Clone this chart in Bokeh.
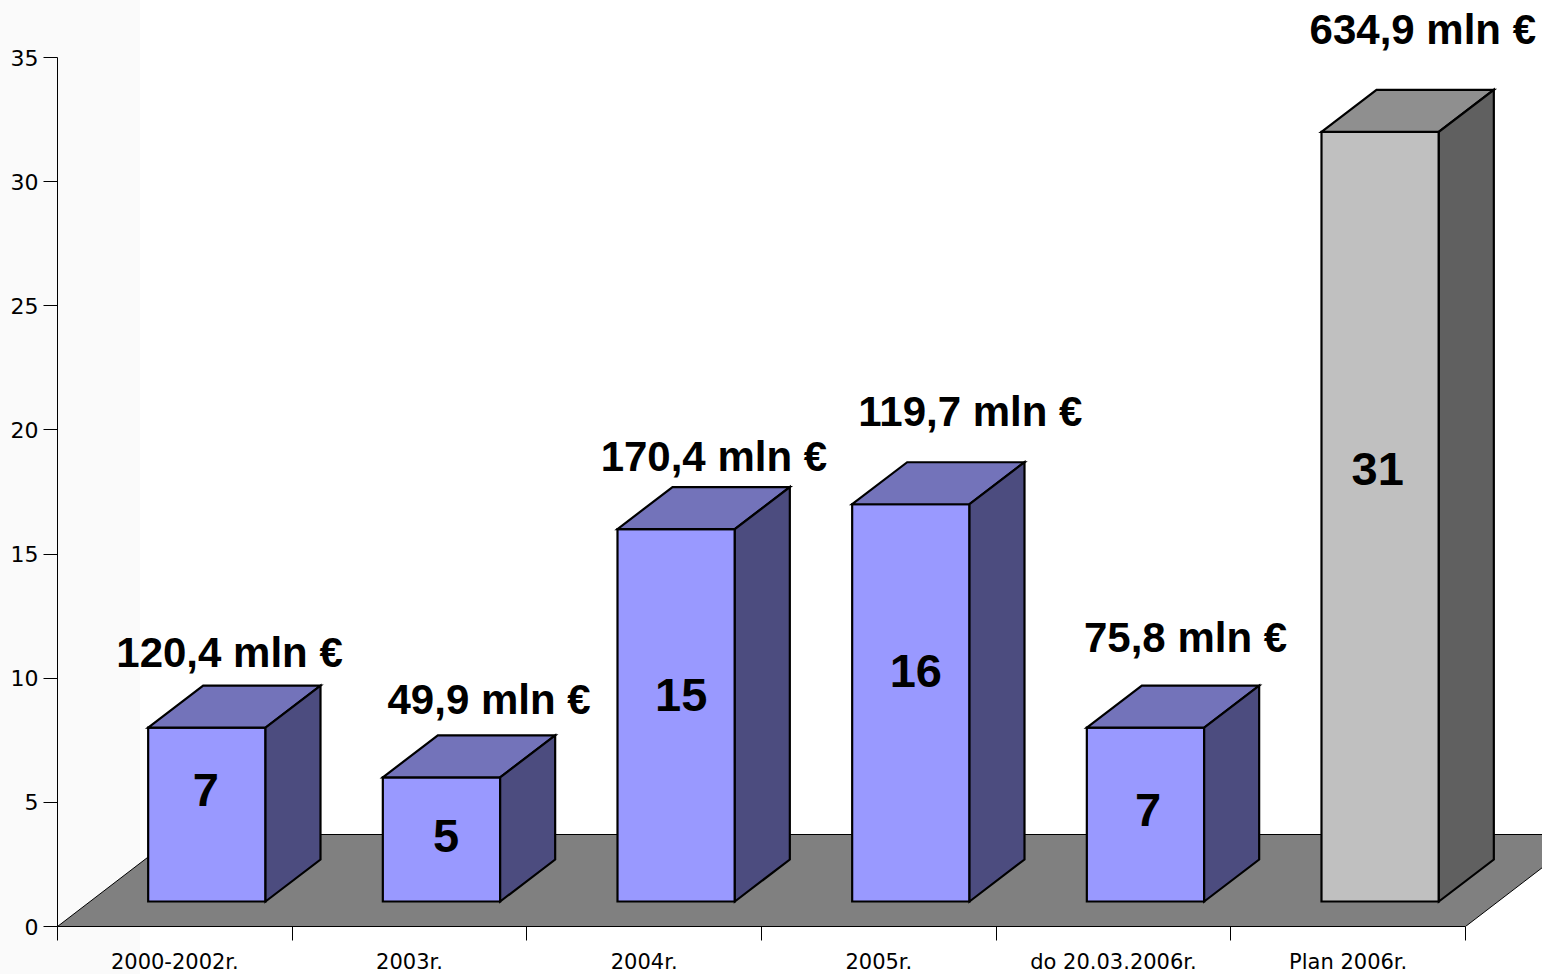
from bokeh.plotting import figure
from bokeh.models import Range1d, FixedTicker, ColumnDataSource
from bokeh.core.properties import value
from bokeh.embed import file_html
from bokeh.resources import INLINE

# ---------------- data ----------------
categories = ["2000-2002r.", "2003r.", "2004r.", "2005r.", "do 20.03.2006r.", "Plan 2006r."]
counts = [7, 5, 15, 16, 7, 31]
amount_labels = ["120,4 mln €", "49,9 mln €", "170,4 mln €", "119,7 mln €", "75,8 mln €", "634,9 mln €"]
y_ticks = [0, 5, 10, 15, 20, 25, 30, 35]

# ---------------- styling / layout ----------------
front_colors = ["#9999FF"] * 5 + ["#C0C0C0"]
top_colors = ["#7373BA"] * 5 + ["#8F8F8F"]
side_colors = ["#4C4C7F"] * 5 + ["#606060"]

FRAME_W, FRAME_H = 1485, 926
PX_X = 6 / 1408.0          # data units per pixel (x)
PX_Y = 35 / 869.0          # data units per pixel (y)

FLOOR_DX, FLOOR_DY = 120 * PX_X, 92 * PX_Y
BAR_OX, BAR_OY = 32 * PX_X, 25 * PX_Y      # front face pushed into the floor
BAR_DX, BAR_DY = 55 * PX_X, 42 * PX_Y      # bar depth
HALF_W = 0.25

AMOUNT_FS, COUNT_FS = 42, 47
TEXT_SHIFT = 0.38          # baseline correction (em) for svg text

# manual label placement (offsets)
amount_dx = [0.233, 0.339, 0.297, 0.390, 0.307, 0.318]
amount_dy = [3.39, 3.50, 3.28, 4.10, 3.99, 4.48]
count_dx_px = [-1, 4.5, 5, 5, 2.5, -2.5]
count_dy = [0.28, -0.57, 0.11, 0.58, -0.52, 1.21]

p = figure(frame_width=FRAME_W, frame_height=FRAME_H,
           x_range=Range1d(-0.5, -0.5 + FRAME_W * PX_X),
           y_range=Range1d(0, FRAME_H * PX_Y),
           output_backend="svg", toolbar_location=None,
           min_border_left=57, min_border_right=0, min_border_top=0, min_border_bottom=48)
p.outline_line_color = None
p.grid.visible = False
p.background_fill_color = None
p.border_fill_color = None
p.styles = {"background": "linear-gradient(to right, #FAFAFA 0px, #FAFAFA 140px, #FFFFFF 140px, #FFFFFF 100%)"}

# floor
n = len(categories)
fx = [-0.5, n - 0.5, n - 0.5 + FLOOR_DX, -0.5 + FLOOR_DX]
fy = [0, 0, FLOOR_DY, FLOOR_DY]
p.patch(fx, fy, fill_color="#808080", line_color="black", line_width=1)

# bars
xs, ys, cols = [], [], []
for i, v in enumerate(counts):
    x0 = i - HALF_W + BAR_OX
    x1 = i + HALF_W + BAR_OX
    y0 = BAR_OY
    y1 = v + BAR_OY
    xs += [[x0, x1, x1, x0],
           [x0, x1, x1 + BAR_DX, x0 + BAR_DX],
           [x1, x1 + BAR_DX, x1 + BAR_DX, x1]]
    ys += [[y0, y0, y1, y1],
           [y1, y1, y1 + BAR_DY, y1 + BAR_DY],
           [y0, y0 + BAR_DY, y1 + BAR_DY, y1]]
    cols += [front_colors[i], top_colors[i], side_colors[i]]
p.patches(xs="xs", ys="ys", fill_color="c",
          source=ColumnDataSource(dict(xs=xs, ys=ys, c=cols)),
          line_color="black", line_width=2.2, line_join="miter")

# amount labels above bars
p.text(x=[i + amount_dx[i] for i in range(n)],
       y=[counts[i] + amount_dy[i] + TEXT_SHIFT * AMOUNT_FS * PX_Y for i in range(n)],
       text=amount_labels, text_font=value("Liberation Sans"), text_font_style="bold",
       text_font_size=f"{AMOUNT_FS}px", text_align="center", text_baseline="alphabetic",
       text_color="black")

# count labels inside bars
p.text(x=[i + BAR_OX + count_dx_px[i] * PX_X for i in range(n)],
       y=[BAR_OY + counts[i] / 2 + count_dy[i] + TEXT_SHIFT * COUNT_FS * PX_Y for i in range(n)],
       text=[str(c) for c in counts], text_font=value("Liberation Sans"), text_font_style="bold",
       text_font_size=f"{COUNT_FS}px", text_align="center", text_baseline="alphabetic",
       text_color="black")

# axes
xa = p.xaxis[0]
xa.ticker = FixedTicker(ticks=list(range(n)), minor_ticks=[i - 0.5 for i in range(n + 1)])
xa.major_label_overrides = {i: categories[i] for i in range(n)}
xa.bounds = (-0.5, n - 0.5)
xa.major_tick_out = 0
xa.major_tick_in = 0
xa.minor_tick_out = 14
xa.minor_tick_in = 0
xa.minor_tick_line_color = "black"
xa.axis_line_color = "black"
xa.major_label_standoff = 9
xa.major_label_text_font = "DejaVu Sans"
xa.major_label_text_font_size = "21px"
xa.major_label_text_color = "black"

ya = p.yaxis[0]
ya.ticker = FixedTicker(ticks=y_ticks, minor_ticks=[])
ya.bounds = (0, 35)
ya.major_tick_out = 14
ya.major_tick_in = 0
ya.minor_tick_out = 0
ya.minor_tick_in = 0
ya.major_tick_line_color = "black"
ya.axis_line_color = "black"
ya.major_label_standoff = 5
ya.major_label_text_font = "DejaVu Sans"
ya.major_label_text_font_size = "22px"
ya.major_label_text_color = "black"

open("out.html", "w").write(file_html(p, INLINE))
